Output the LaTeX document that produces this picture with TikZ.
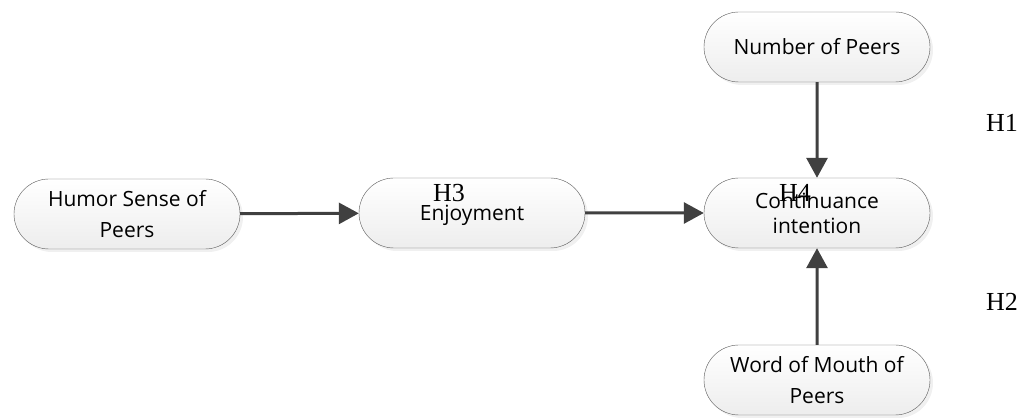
\documentclass[tikz,border=0pt]{standalone}
\usepackage{fontspec}
\setsansfont{Open Sans}
\setmainfont{Liberation Serif}
\usepackage{tikz}
\usetikzlibrary{positioning, arrows.meta, shapes.misc, shadows}

\tikzset{
    factor/.style={rounded rectangle, draw=black!65, thin,
        top color=white, bottom color=black!7,
        minimum width=230pt, minimum height=70pt, align=center, inner sep=2pt,
        font=\sffamily\fontsize{21}{31}\selectfont,
        drop shadow={shadow xshift=3pt, shadow yshift=-3pt, opacity=0.12}},
    link/.style={-{Triangle[length=20pt,width=21pt]}, line width=3pt, draw=black!75},
    hyp/.style={inner sep=0pt, font=\rmfamily\fontsize{26}{28}\selectfont}
}

\begin{document}
\begin{tikzpicture}[x=1pt, y=-1pt]
    \useasboundingbox (0,0) rectangle (1021,419);

    % Define nodes
    \node[factor] (humor) at (127,214) {Humor Sense of\\Peers};
    \node[factor, text depth=0pt] (enjoy) at (472,213) {Enjoyment};
    \node[factor, font=\sffamily\fontsize{21}{25}\selectfont] (cont) at (817,213) {Continuance\\intention};
    \node[factor] (number) at (817,47) {Number of Peers};
    \node[factor] (wom) at (817,380) {Word of Mouth of\\Peers};

    % Draw arrows
    \draw[link] (humor) -- (enjoy);
    \draw[link] (enjoy) -- (cont);
    \draw[link] (number) -- (cont);
    \draw[link] (wom) -- (cont);

    % Hypothesis labels
    \node[hyp] (h1) at (1002,123) {H1};
    \node[hyp] (h2) at (1002,302) {H2};
    \node[hyp] (h3) at (449,193) {H3};
    \node[hyp] (h4) at (795,193) {H4};
\end{tikzpicture}
\end{document}
